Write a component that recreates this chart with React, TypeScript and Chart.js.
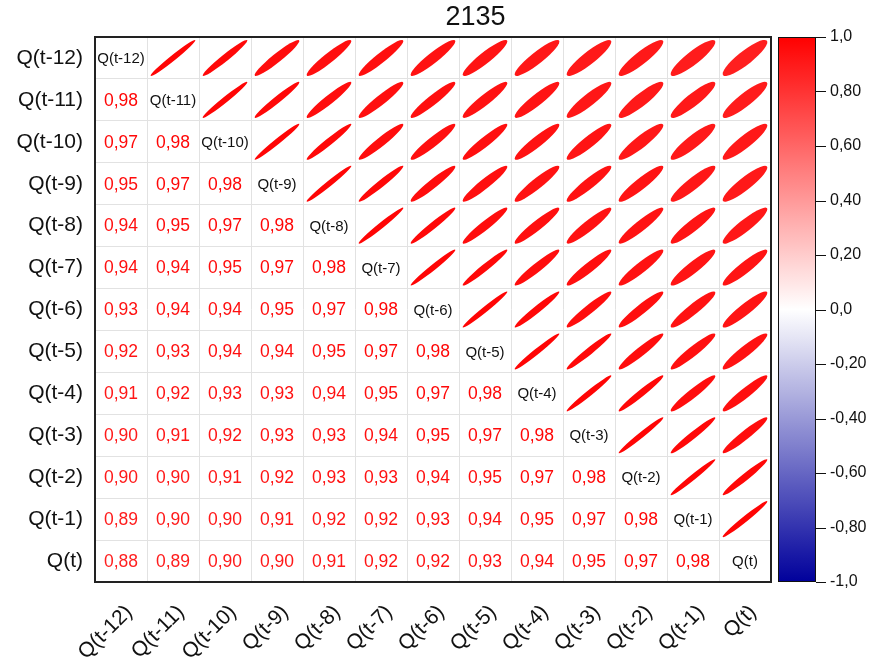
import React, { useEffect, useRef } from 'react';
import { Chart, registerables } from 'chart.js';

Chart.register(...registerables);

const FONT = "'Liberation Sans', Arial, Helvetica, sans-serif";

const chartTitle = '2135';

// Variables in matrix order: first one is the top row / left column
const variables = [
  'Q(t-12)', 'Q(t-11)', 'Q(t-10)', 'Q(t-9)', 'Q(t-8)', 'Q(t-7)', 'Q(t-6)',
  'Q(t-5)', 'Q(t-4)', 'Q(t-3)', 'Q(t-2)', 'Q(t-1)', 'Q(t)',
];

// Lower-triangle Pearson correlations, one row per variable (columns left to right)
const rowQt12: number[] = [];
const rowQt11 = [0.98];
const rowQt10 = [0.97, 0.98];
const rowQt9 = [0.95, 0.97, 0.98];
const rowQt8 = [0.94, 0.95, 0.97, 0.98];
const rowQt7 = [0.94, 0.94, 0.95, 0.97, 0.98];
const rowQt6 = [0.93, 0.94, 0.94, 0.95, 0.97, 0.98];
const rowQt5 = [0.92, 0.93, 0.94, 0.94, 0.95, 0.97, 0.98];
const rowQt4 = [0.91, 0.92, 0.93, 0.93, 0.94, 0.95, 0.97, 0.98];
const rowQt3 = [0.90, 0.91, 0.92, 0.93, 0.93, 0.94, 0.95, 0.97, 0.98];
const rowQt2 = [0.90, 0.90, 0.91, 0.92, 0.93, 0.93, 0.94, 0.95, 0.97, 0.98];
const rowQt1 = [0.89, 0.90, 0.90, 0.91, 0.92, 0.92, 0.93, 0.94, 0.95, 0.97, 0.98];
const rowQt0 = [0.88, 0.89, 0.90, 0.90, 0.91, 0.92, 0.92, 0.93, 0.94, 0.95, 0.97, 0.98];

const lowerTriangle = [
  rowQt12, rowQt11, rowQt10, rowQt9, rowQt8, rowQt7, rowQt6,
  rowQt5, rowQt4, rowQt3, rowQt2, rowQt1, rowQt0,
];

// Colour bar ticks and their labels
const colorbarTicks = [-1, -0.8, -0.6, -0.4, -0.2, 0, 0.2, 0.4, 0.6, 0.8, 1];
const colorbarLabels = ['-1,0', '-0,80', '-0,60', '-0,40', '-0,20', '0,0', '0,20', '0,40', '0,60', '0,80', '1,0'];

// Blue - white - red diverging palette
function corrColor(r: number): string {
  const t = Math.min(1, Math.abs(r));
  if (r >= 0) {
    const g = Math.round(255 * (1 - t));
    return `rgb(255,${g},${g})`;
  }
  const c = Math.round(255 * (1 - t));
  const b = Math.round(255 - 100 * t);
  return `rgb(${c},${c},${b})`;
}

const fmt = (v: number) => v.toFixed(2).replace('.', ',');

const corr = (i: number, j: number) => (i > j ? lowerTriangle[i][j] : lowerTriangle[j][i]);

type Cell = { x: string; y: string; v: number };

const valueCells: Cell[] = [];
const nameCells: Cell[] = [];
const ellipseCells: Cell[] = [];
variables.forEach((rowName, i) => {
  variables.forEach((colName, j) => {
    if (j < i) valueCells.push({ x: colName, y: rowName, v: corr(i, j) });
    else if (j === i) nameCells.push({ x: colName, y: rowName, v: 1 });
    else ellipseCells.push({ x: colName, y: rowName, v: corr(i, j) });
  });
});

const ELLIPSE_SCALE = 0.86;

const matrixPlugin = {
  id: 'corrMatrix',
  afterDatasetsDraw(chart: any) {
    const { ctx } = chart;
    const xs = chart.scales.x;
    const ys = chart.scales.y;
    const cellW = Math.abs(xs.getPixelForValue(1) - xs.getPixelForValue(0));
    const cellH = Math.abs(ys.getPixelForValue(1) - ys.getPixelForValue(0));

    ctx.save();
    ctx.textAlign = 'center';
    ctx.textBaseline = 'middle';

    // lower triangle: coefficient values
    const m0 = chart.getDatasetMeta(0);
    ctx.font = `17.5px ${FONT}`;
    m0.data.forEach((el: any, k: number) => {
      const v = chart.data.datasets[0].data[k].v;
      ctx.fillStyle = corrColor(v);
      ctx.fillText(fmt(v), el.x, el.y + 1);
    });

    // diagonal: variable names
    const m1 = chart.getDatasetMeta(1);
    ctx.font = `15px ${FONT}`;
    ctx.fillStyle = '#111';
    m1.data.forEach((el: any, k: number) => {
      ctx.fillText(chart.data.datasets[1].data[k].x, el.x, el.y + 1);
    });

    // upper triangle: correlation ellipses
    const m2 = chart.getDatasetMeta(2);
    m2.data.forEach((el: any, k: number) => {
      const v = chart.data.datasets[2].data[k].v;
      const a = 0.5 * ELLIPSE_SCALE * Math.sqrt(1 + v);
      const b = 0.5 * ELLIPSE_SCALE * Math.sqrt(1 - v);
      ctx.save();
      ctx.translate(el.x, el.y);
      ctx.scale(cellW, cellH);
      ctx.rotate(v >= 0 ? -Math.PI / 4 : Math.PI / 4);
      ctx.beginPath();
      ctx.ellipse(0, 0, a, b, 0, 0, Math.PI * 2);
      ctx.restore();
      ctx.fillStyle = corrColor(v);
      ctx.fill();
    });
    ctx.restore();
  },
  afterDraw(chart: any) {
    const { ctx, chartArea } = chart;
    ctx.save();

    // plot frame
    ctx.strokeStyle = '#222';
    ctx.lineWidth = 2;
    ctx.strokeRect(chartArea.left, chartArea.top, chartArea.right - chartArea.left, chartArea.bottom - chartArea.top);

    // colour bar
    const cb = chart.scales.cb;
    const x0 = cb.left + 7;
    const x1 = cb.left + 45;
    const top = cb.getPixelForValue(1);
    const bottom = cb.getPixelForValue(-1);
    const grad = ctx.createLinearGradient(0, bottom, 0, top);
    for (let s = 0; s <= 40; s++) {
      grad.addColorStop(s / 40, corrColor(-1 + s / 20));
    }
    ctx.fillStyle = grad;
    ctx.fillRect(x0, top, x1 - x0, bottom - top);
    ctx.strokeStyle = '#111';
    ctx.lineWidth = 1;
    ctx.strokeRect(x0 + 0.5, top + 0.5, x1 - x0 - 1, bottom - top - 1);
    ctx.beginPath();
    colorbarTicks.forEach((v) => {
      const py = Math.round(cb.getPixelForValue(v)) + 0.5;
      ctx.moveTo(x1, py);
      ctx.lineTo(x1 + 10, py);
    });
    ctx.stroke();

    // title
    ctx.fillStyle = '#111';
    ctx.font = `27px ${FONT}`;
    ctx.textAlign = 'center';
    ctx.textBaseline = 'middle';
    ctx.fillText(chartTitle, (chartArea.left + chart.width - 15) / 2, 18);
    ctx.restore();
  },
};

export default function App() {
  const canvasRef = useRef<HTMLCanvasElement | null>(null);

  useEffect(() => {
    if (!canvasRef.current) return;
    const chart = new Chart(canvasRef.current, {
      type: 'scatter',
      data: {
        datasets: [
          { label: 'values', data: valueCells as any, pointRadius: 0, pointHoverRadius: 0 },
          { label: 'names', data: nameCells as any, pointRadius: 0, pointHoverRadius: 0 },
          { label: 'ellipses', data: ellipseCells as any, pointRadius: 0, pointHoverRadius: 0 },
        ],
      },
      options: {
        animation: false,
        responsive: false,
        events: [],
        layout: { padding: { top: 37, left: 0, right: 0, bottom: 0 } },
        plugins: {
          legend: { display: false },
          tooltip: { enabled: false },
          title: { display: false },
        },
        scales: {
          x: {
            type: 'category',
            labels: variables,
            position: 'bottom',
            offset: true,
            grid: { offset: true, color: '#e2e2e2', drawTicks: false },
            border: { display: false },
            ticks: {
              autoSkip: false,
              minRotation: 45,
              maxRotation: 45,
              padding: 18,
              labelOffset: 8,
              color: '#111',
              font: { family: FONT, size: 21 },
            },
            afterFit: (s: any) => { s.height = 81; s.paddingLeft = 0; s.paddingRight = 0; },
          },
          y: {
            type: 'category',
            labels: variables,
            position: 'left',
            offset: true,
            grid: { offset: true, color: '#e2e2e2', drawTicks: false },
            border: { display: false },
            ticks: {
              autoSkip: false,
              padding: 12,
              color: '#111',
              font: { family: FONT, size: 21 },
            },
            afterFit: (s: any) => { s.width = 95; s.paddingTop = 0; s.paddingBottom = 0; },
          },
          cb: {
            type: 'linear',
            position: 'right',
            min: -1,
            max: 1,
            grid: { display: false, drawTicks: false },
            border: { display: false },
            afterBuildTicks: (s: any) => { s.ticks = colorbarTicks.map((value) => ({ value })); },
            ticks: {
              padding: 59,
              color: '#111',
              font: { family: FONT, size: 16 },
              callback: (_v: any, idx: number) => colorbarLabels[idx],
            },
            afterFit: (s: any) => { s.width = 100; s.paddingTop = 0; s.paddingBottom = 0; },
          },
        },
      } as any,
      plugins: [matrixPlugin],
    });
    return () => chart.destroy();
  }, []);

  return (
    <div style={{ position: 'fixed', left: 0, top: 0, width: 871, height: 663, background: '#fff' }}>
      <canvas ref={canvasRef} width={871} height={663} />
    </div>
  );
}
